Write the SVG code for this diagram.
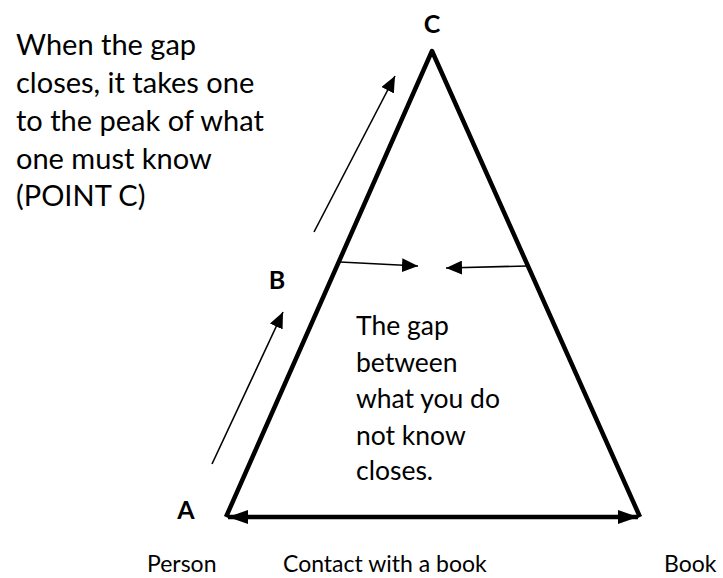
<svg xmlns="http://www.w3.org/2000/svg" width="723" height="578" viewBox="0 0 723 578">
<defs>
<style>
.t{font-family:"Lato","Liberation Sans",sans-serif;fill:#000}
.l{font-size:29px}
.g{font-size:26.5px}
.s{font-size:23px}
.b{font-family:"Lato","Liberation Sans",sans-serif;font-size:25px;font-weight:bold;fill:#000}
.thin{stroke:#000;stroke-width:1.6;fill:none}
.thick{stroke:#000;stroke-width:4.5;fill:none;stroke-linejoin:round}
</style>
<marker id="ahs" viewBox="0 0 10 10" refX="10" refY="5" markerWidth="16" markerHeight="14" markerUnits="userSpaceOnUse" orient="auto" preserveAspectRatio="none"><path d="M0,0 L10,5 L0,10 z" fill="#000"/></marker>
<marker id="ahb" viewBox="0 0 10 10" refX="10" refY="5" markerWidth="20" markerHeight="14" markerUnits="userSpaceOnUse" orient="auto-start-reverse" preserveAspectRatio="none"><path d="M0,0 L10,5 L0,10 z" fill="#000"/></marker>
</defs>
<rect width="723" height="578" fill="#fff"/>
<g id="triangle">
<path class="thick" d="M226,517 L432,51 L640,517"/>
</g>
<g id="connectors">
<line x1="228" y1="517" x2="638" y2="517" stroke="#000" stroke-width="4.5" marker-start="url(#ahb)" marker-end="url(#ahb)"/>
<line class="thin" x1="212" y1="464" x2="283" y2="312" marker-end="url(#ahs)"/>
<line class="thin" x1="314" y1="232" x2="395" y2="76" marker-end="url(#ahs)"/>
<line class="thin" x1="340" y1="262" x2="418" y2="266" marker-end="url(#ahs)"/>
<line class="thin" x1="527" y1="266" x2="446" y2="268" marker-end="url(#ahs)"/>
</g>
<g id="label-C"><text class="b" x="432" y="33" text-anchor="middle">C</text></g>
<g id="label-B"><text class="b" x="277" y="289" text-anchor="middle">B</text></g>
<g id="label-A"><text class="b" x="186" y="519" text-anchor="middle">A</text></g>
<g id="note-left">
<text class="t l" x="16" y="55">When the gap</text>
<text class="t l" x="16" y="93">closes, it takes one</text>
<text class="t l" x="16" y="131">to the peak of what</text>
<text class="t l" x="16" y="169">one must know</text>
<text class="t l" x="16" y="206">(POINT C)</text>
</g>
<g id="note-gap">
<text class="t g" x="356" y="335">The gap</text>
<text class="t g" x="356" y="372">between</text>
<text class="t g" x="356" y="408">what you do</text>
<text class="t g" x="356" y="445">not know</text>
<text class="t g" x="356" y="480">closes.</text>
</g>
<g id="label-person"><text class="t s" x="147" y="572">Person</text></g>
<g id="label-contact"><text class="t s" x="283" y="572">Contact with a book</text></g>
<g id="label-book"><text class="t s" x="664" y="572">Book</text></g>
</svg>
